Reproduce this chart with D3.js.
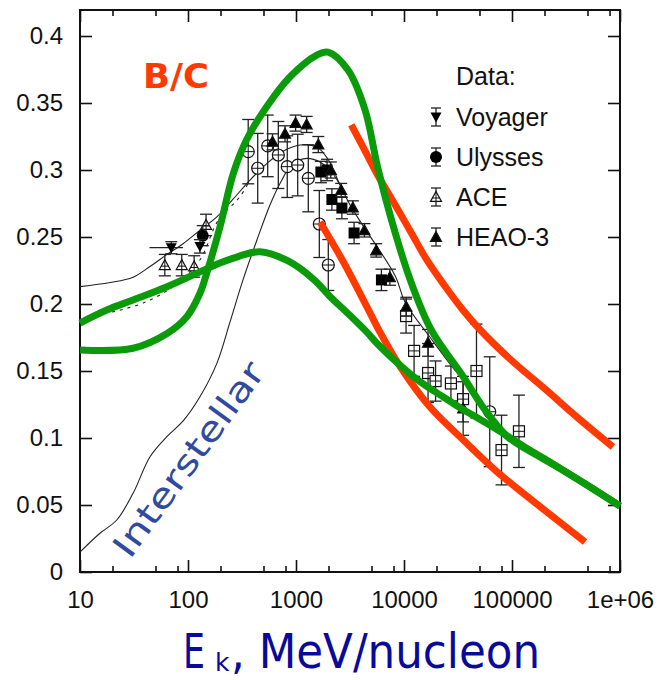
<!DOCTYPE html>
<html>
<head>
<meta charset="utf-8">
<script src="https://cdn.jsdelivr.net/npm/d3@7"></script>
<style>
  html, body { margin: 0; padding: 0; background: #fff; }
  svg { display: block; }
  .tick text { font-family: "Liberation Sans", Arial, sans-serif; font-size: 24px; fill: #111; }
</style>
</head>
<body>
<svg id="chart" width="658" height="680"></svg>
<script>
// B/C ratio vs kinetic energy per nucleon

const X_MAJOR = [10, 100, 1000, 10000, 100000, 1000000];
const X_LABELS = ["10", "100", "1000", "10000", "100000", "1e+06"];
const Y_MAJOR = [0, 0.05, 0.1, 0.15, 0.2, 0.25, 0.3, 0.35, 0.4];

// data sets (E in MeV/nucleon, B/C, +/- error)
const voyagerE = [70, 129];
const voyagerV = [0.242, 0.243];
const voyagerErr = [0.0045, 0.005];
const voyagerEMin = [44, 129];
const voyagerEMax = [90, 129];

const ulyssesE = [137];
const ulyssesV = [0.251];
const ulyssesErr = [0.0075];

const aceE = [61, 87.5, 114, 147];
const aceV = [0.229, 0.229, 0.228, 0.259];
const aceErr = [0.008, 0.008, 0.008, 0.008];

const heaoE = [606, 791, 991, 1255, 1610, 2100, 2620, 3360, 4300, 5530, 7400, 10500, 16700, 35300];
const heaoV = [0.321, 0.327, 0.335, 0.334, 0.319, 0.300, 0.285, 0.272, 0.255, 0.240, 0.220, 0.198, 0.171, 0.122];
const heaoErr = [0.006, 0.006, 0.006, 0.006, 0.006, 0.006, 0.005, 0.005, 0.005, 0.005, 0.006, 0.007, 0.01, 0.02];

const circE = [361, 442, 547, 686, 830, 1037, 1300, 1644, 1991, 62200];
const circV = [0.3137, 0.3013, 0.318, 0.3112, 0.3025, 0.3037, 0.2938, 0.2597, 0.2291, 0.1196];
const circErr = [0.024, 0.026, 0.023, 0.025, 0.023, 0.023, 0.025, 0.025, 0.019, 0.041];

const fsqE = [1700, 1940, 2150, 2660, 3450, 6180];
const fsqV = [0.2985, 0.300, 0.278, 0.2716, 0.253, 0.218];
const fsqErr = [0.008, 0.008, 0.008, 0.008, 0.008, 0.008];

const osqE = [10450, 12400, 16700, 19600, 27200, 35200, 46900, 80000, 116000];
const osqV = [0.191, 0.165, 0.1485, 0.1425, 0.1407, 0.129, 0.150, 0.091, 0.105];
const osqErr = [0.0127, 0.019, 0.022, 0.015, 0.013, 0.017, 0.035, 0.026, 0.027];

// model curves
const modE = [10, 19, 31, 44.5, 64, 90, 129, 185, 260, 375, 540, 760, 1090, 1570, 1980, 2550, 3160, 4000, 8300, 10200, 17500, 30600, 36700];
const modV = [0.213, 0.216, 0.220, 0.228, 0.237, 0.245, 0.255, 0.265, 0.278, 0.2925, 0.305, 0.314, 0.3187, 0.317, 0.308, 0.289, 0.274, 0.2607, 0.2209, 0.2015, 0.175, 0.1493, 0.143];

const isE = [10, 15.3, 21.9, 31, 44.5, 63.7, 90.6, 129, 185, 245, 323, 435, 574, 711, 938, 1265, 1667, 2065, 2550];
const isV = [0.0149, 0.0289, 0.0388, 0.0587, 0.086, 0.101, 0.113, 0.1308, 0.1557, 0.1866, 0.218, 0.2478, 0.2739, 0.290, 0.305, 0.3087, 0.306, 0.300, 0.289];

const dashE = [19.8, 38.4, 75.8, 129, 189, 302, 375];
const dashV = [0.194, 0.2007, 0.214, 0.233, 0.262, 0.28, 0.2925];

const greenAE = [10, 31, 64, 97.5, 129, 149, 198, 263, 348, 535, 882, 1560, 1980, 3030, 4360, 5700, 8300, 11700, 17900, 34500, 56200, 91800, 140600, 284000, 1000000];
const greenAV = [0.1657, 0.167, 0.178, 0.1905, 0.208, 0.223, 0.2577, 0.2975, 0.3224, 0.3472, 0.3696, 0.3858, 0.388, 0.3746, 0.3448, 0.3022, 0.253, 0.2157, 0.1806, 0.147, 0.121, 0.1007, 0.0910, 0.0769, 0.0493];

const greenBE = [10, 17.7, 31, 64, 129, 198, 300, 464, 845, 1480, 2040, 2930, 4420, 5700, 8300, 11700, 16500, 23900, 34500, 49900, 71500, 99900, 140600, 202000, 284000, 530000, 1000000];
const greenBV = [0.1858, 0.1955, 0.203, 0.2129, 0.224, 0.2306, 0.2358, 0.239, 0.2321, 0.2179, 0.2060, 0.194, 0.1799, 0.1701, 0.1575, 0.147, 0.1381, 0.1299, 0.1216, 0.1142, 0.1067, 0.0993, 0.0918, 0.0843, 0.0769, 0.0634, 0.0493];

const redCE = [1670, 2750, 4540, 5990, 9270, 17400, 35400, 69700, 140600, 475000];
const redCV = [0.2612, 0.2313, 0.1978, 0.179, 0.153, 0.1231, 0.0985, 0.0761, 0.056, 0.0224];

const redDE = [3250, 4360, 5700, 8300, 11700, 16500, 23900, 34500, 50900, 98100, 202000, 409000, 860000];
const redDV = [0.3336, 0.3142, 0.2963, 0.2739, 0.253, 0.2321, 0.2134, 0.1963, 0.1806, 0.1582, 0.1366, 0.1149, 0.0933];

const LEGEND = ["Voyager", "Ulysses", "ACE", "HEAO-3"];

const GREEN = "#0a9a0a";
const RED = "#ff3a00";

const svg = d3.select("#chart");
svg.append("rect").attr("width", 658).attr("height", 680).attr("fill", "#fff");

const x = d3.scaleLog().domain([10, 1e6]).range([80, 620]);
const y = d3.scaleLinear().domain([0, 0.4]).range([572, 36]);
const yTop = y.invert(10);

const zip = (es, vs) => es.map((e, i) => ({ e, v: vs[i] }));
const line = d3.line().x((d) => x(d.e)).y((d) => y(d.v)).curve(d3.curveCatmullRom.alpha(0.5));

// minor ticks at 2 and 5 each decade (plus 8 on the bottom)
const minor = [];
const minorBottom = [];
X_MAJOR.slice(0, -1).forEach((m) => {
  minor.push(m * 2, m * 5);
  minorBottom.push(m * 2, m * 5, m * 8);
});

const fmtX = (d) => X_LABELS[X_MAJOR.indexOf(d)];
const fmtY = (d) => (d === 0 ? "0" : String(+d.toFixed(2)));

// bottom axis
svg.append("g")
  .attr("transform", "translate(0,572)")
  .call(d3.axisBottom(x).tickValues(X_MAJOR).tickFormat(fmtX).tickSize(-12).tickPadding(19));
svg.append("g")
  .attr("transform", "translate(0,572)")
  .call(d3.axisBottom(x).tickValues(minorBottom).tickFormat("").tickSize(-6));
// top axis
svg.append("g")
  .attr("transform", "translate(0,10)")
  .call(d3.axisTop(x).tickValues(X_MAJOR).tickFormat("").tickSize(-12));
svg.append("g")
  .attr("transform", "translate(0,10)")
  .call(d3.axisTop(x).tickValues(minor.concat([800000])).tickFormat("").tickSize(-6));
// left / right axes
svg.append("g")
  .attr("transform", "translate(80,0)")
  .call(d3.axisLeft(y).tickValues(Y_MAJOR).tickFormat(fmtY).tickSize(-12).tickPadding(17));
svg.append("g")
  .attr("transform", "translate(620,0)")
  .call(d3.axisRight(y).tickValues(Y_MAJOR).tickFormat("").tickSize(-12));

svg.selectAll(".domain").remove();
svg.selectAll(".tick line").attr("stroke", "#111").attr("stroke-width", 1.6);

// frame
svg.append("rect")
  .attr("x", x(10)).attr("y", y(yTop))
  .attr("width", x(1e6) - x(10)).attr("height", y(0) - y(yTop))
  .attr("fill", "none").attr("stroke", "#111").attr("stroke-width", 2);

const plot = svg.append("g");

// thin model curves
plot.append("path").datum(zip(isE, isV)).attr("d", line)
  .attr("fill", "none").attr("stroke", "#222").attr("stroke-width", 1.1);
plot.append("path").datum(zip(modE, modV)).attr("d", line)
  .attr("fill", "none").attr("stroke", "#222").attr("stroke-width", 1.1);
plot.append("path").datum(zip(dashE, dashV)).attr("d", line)
  .attr("fill", "none").attr("stroke", "#222").attr("stroke-width", 1.1)
  .attr("stroke-dasharray", "3,5");

// error bars + markers
function errBars(es, vs, errs, cap) {
  const g = plot.append("g").attr("stroke", "#222").attr("stroke-width", 1.3);
  es.forEach((e, i) => {
    const cx = x(e), y0 = y(vs[i] - errs[i]), y1 = y(vs[i] + errs[i]);
    g.append("line").attr("x1", cx).attr("x2", cx).attr("y1", y0).attr("y2", y1);
    g.append("line").attr("x1", cx - cap).attr("x2", cx + cap).attr("y1", y0).attr("y2", y0);
    g.append("line").attr("x1", cx - cap).attr("x2", cx + cap).attr("y1", y1).attr("y2", y1);
  });
}

function marker(g, kind, cx, cy) {
  const s = 5.5;
  if (kind === "tri" || kind === "triOpen") {
    g.append("path")
      .attr("d", `M${cx},${cy - s}L${cx + s},${cy + s * 0.8}L${cx - s},${cy + s * 0.8}Z`)
      .attr("fill", kind === "tri" ? "#000" : "#fff").attr("stroke", "#111").attr("stroke-width", 1.2);
    if (kind === "triOpen") {
      g.append("line").attr("x1", cx - s * 0.7).attr("x2", cx + s * 0.7).attr("y1", cy + 1).attr("y2", cy + 1)
        .attr("stroke", "#111").attr("stroke-width", 1);
      g.append("line").attr("x1", cx).attr("x2", cx).attr("y1", cy - s).attr("y2", cy + s * 0.8)
        .attr("stroke", "#111").attr("stroke-width", 1);
    }
  } else if (kind === "triDown") {
    g.append("path")
      .attr("d", `M${cx},${cy + s}L${cx + s},${cy - s * 0.8}L${cx - s},${cy - s * 0.8}Z`)
      .attr("fill", "#000");
  } else if (kind === "dot") {
    g.append("circle").attr("cx", cx).attr("cy", cy).attr("r", 6).attr("fill", "#000");
  } else if (kind === "circ") {
    g.append("circle").attr("cx", cx).attr("cy", cy).attr("r", 6)
      .attr("fill", "#fff").attr("stroke", "#111").attr("stroke-width", 1.2);
    g.append("line").attr("x1", cx - 6).attr("x2", cx + 6).attr("y1", cy).attr("y2", cy)
      .attr("stroke", "#111").attr("stroke-width", 1);
    g.append("line").attr("x1", cx).attr("x2", cx).attr("y1", cy - 6).attr("y2", cy + 6)
      .attr("stroke", "#111").attr("stroke-width", 1);
  } else if (kind === "fsq") {
    g.append("rect").attr("x", cx - 5.5).attr("y", cy - 5.5).attr("width", 11).attr("height", 11).attr("fill", "#000");
  } else if (kind === "osq") {
    g.append("rect").attr("x", cx - 5.5).attr("y", cy - 5.5).attr("width", 11).attr("height", 11)
      .attr("fill", "#fff").attr("stroke", "#111").attr("stroke-width", 1.2);
    g.append("line").attr("x1", cx - 5.5).attr("x2", cx + 5.5).attr("y1", cy).attr("y2", cy)
      .attr("stroke", "#111").attr("stroke-width", 1);
    g.append("line").attr("x1", cx).attr("x2", cx).attr("y1", cy - 5.5).attr("y2", cy + 5.5)
      .attr("stroke", "#111").attr("stroke-width", 1);
  }
}

function series(es, vs, errs, kind, cap) {
  errBars(es, vs, errs, cap);
  const g = plot.append("g");
  es.forEach((e, i) => marker(g, kind, x(e), y(vs[i])));
}

series(circE, circV, circErr, "circ", 6);
series(osqE, osqV, osqErr, "osq", 6);
series(fsqE, fsqV, fsqErr, "fsq", 6);
series(heaoE, heaoV, heaoErr, "tri", 6);
series(aceE, aceV, aceErr, "triOpen", 6);
series(ulyssesE, ulyssesV, ulyssesErr, "dot", 6);
// Voyager horizontal bars
voyagerE.forEach((e, i) => {
  if (voyagerEMin[i] !== voyagerEMax[i]) {
    plot.append("line")
      .attr("x1", x(voyagerEMin[i])).attr("x2", x(voyagerEMax[i]))
      .attr("y1", y(voyagerV[i])).attr("y2", y(voyagerV[i]))
      .attr("stroke", "#222").attr("stroke-width", 1.3);
  }
});
series(voyagerE, voyagerV, voyagerErr, "triDown", 6);

// thick model curves
[[redCE, redCV, RED], [redDE, redDV, RED], [greenBE, greenBV, GREEN], [greenAE, greenAV, GREEN]].forEach(([es, vs, col]) => {
  svg.append("path").datum(zip(es, vs)).attr("d", line)
    .attr("fill", "none").attr("stroke", col).attr("stroke-width", 7)
    .attr("stroke-linecap", "butt");
});

// legend
const leg = svg.append("g").attr("font-family", "Liberation Sans, Arial, sans-serif").attr("font-size", 25).attr("fill", "#111");
leg.append("text").attr("x", 456).attr("y", 85).text("Data:");
const legKinds = ["triDown", "dot", "triOpen", "tri"];
LEGEND.forEach((name, i) => {
  const by = 126 + i * 40;
  leg.append("text").attr("x", 456).attr("y", by).text(name);
  const cy = by - 9;
  const lg = leg.append("g").attr("stroke", "#222").attr("stroke-width", 1.3);
  lg.append("line").attr("x1", 436).attr("x2", 436).attr("y1", cy - 9).attr("y2", cy + 9);
  lg.append("line").attr("x1", 431).attr("x2", 441).attr("y1", cy - 9).attr("y2", cy - 9);
  lg.append("line").attr("x1", 431).attr("x2", 441).attr("y1", cy + 9).attr("y2", cy + 9);
  marker(leg.append("g"), legKinds[i], 436, cy);
});

// annotations
svg.append("text")
  .attr("x", 143).attr("y", 88)
  .attr("font-family", "DejaVu Sans, sans-serif").attr("font-weight", "bold").attr("font-size", 34)
  .attr("fill", RED).attr("textLength", 66).attr("lengthAdjust", "spacingAndGlyphs")
  .text("B/C");

svg.append("text")
  .attr("transform", "translate(130,560) rotate(-54)")
  .attr("font-family", "DejaVu Sans, sans-serif").attr("font-size", 34)
  .attr("fill", "#2f4a9e").attr("textLength", 232).attr("lengthAdjust", "spacingAndGlyphs")
  .text("Interstellar");

// axis title: E_k, MeV/nucleon
const titleFont = { family: "DejaVu Sans, sans-serif", color: "#0a0a99" };
svg.append("text")
  .attr("x", 183).attr("y", 668)
  .attr("font-family", titleFont.family).attr("font-size", 48).attr("fill", titleFont.color)
  .attr("textLength", 22).attr("lengthAdjust", "spacingAndGlyphs")
  .text("E");
svg.append("text")
  .attr("x", 215).attr("y", 671)
  .attr("font-family", titleFont.family).attr("font-size", 25).attr("fill", titleFont.color)
  .text("k");
svg.append("text")
  .attr("x", 231).attr("y", 668)
  .attr("font-family", titleFont.family).attr("font-size", 48).attr("fill", titleFont.color)
  .attr("textLength", 309).attr("lengthAdjust", "spacingAndGlyphs")
  .text(", MeV/nucleon");
</script>
</body>
</html>
